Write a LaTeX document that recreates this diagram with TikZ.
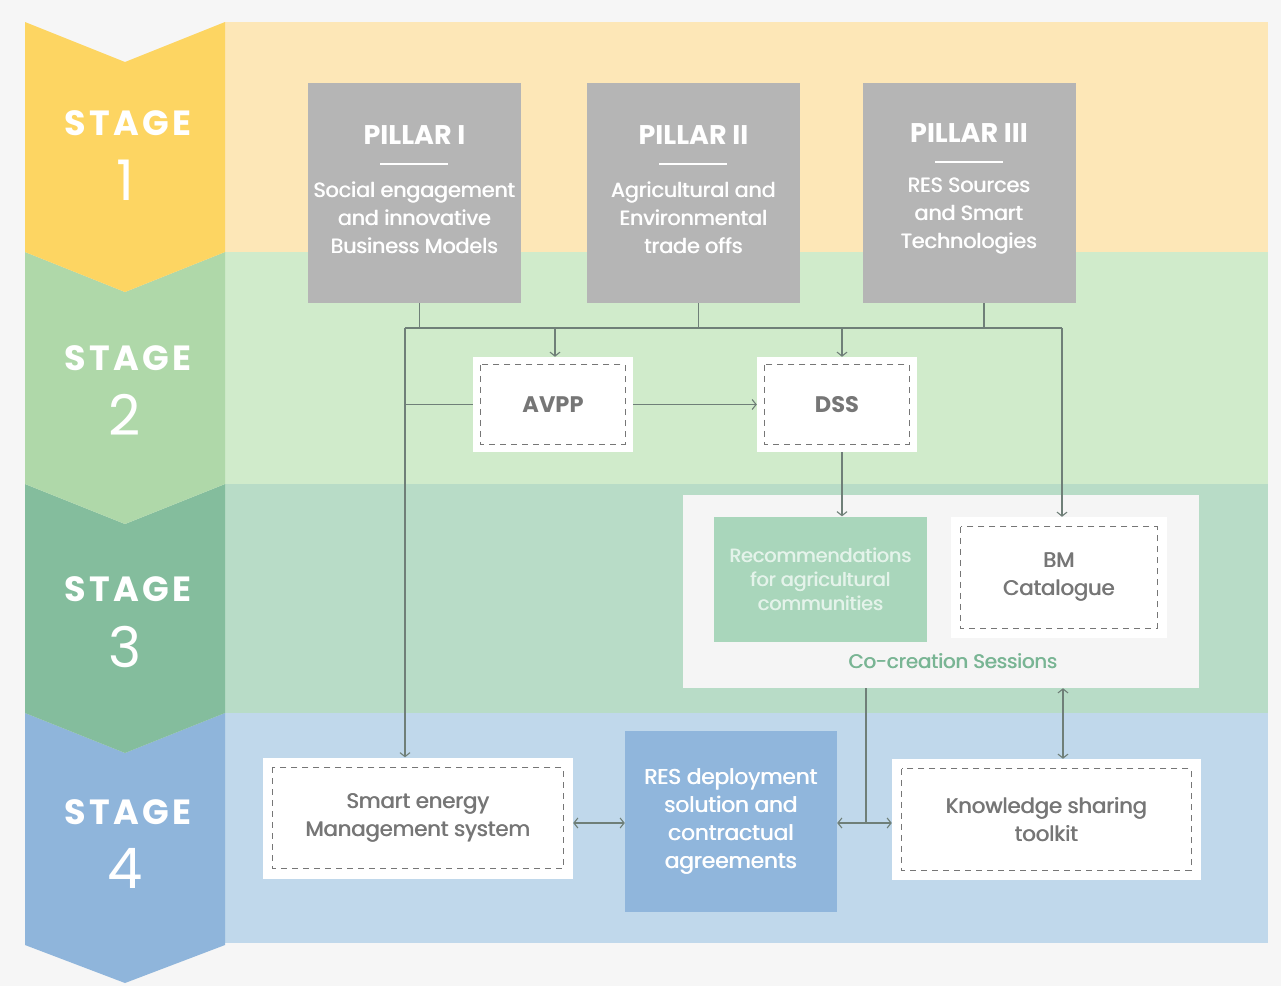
\documentclass[tikz,border=0pt]{standalone}
\usepackage{fontspec}
\setmainfont{Poppins}
\newfontfamily\stagefont{Poppins}[LetterSpace=9]
\usetikzlibrary{arrows.meta,calc}
\definecolor{bgc}{HTML}{F6F6F6}
\definecolor{band1}{HTML}{FDE7B7}
\definecolor{band2}{HTML}{D0EBCB}
\definecolor{band3}{HTML}{B8DCC7}
\definecolor{band4}{HTML}{C0D8EB}
\definecolor{chev1}{HTML}{FDD562}
\definecolor{chev2}{HTML}{AFD8A9}
\definecolor{chev3}{HTML}{84BD9D}
\definecolor{chev4}{HTML}{8FB5DB}
\definecolor{pillarc}{HTML}{B5B5B5}
\definecolor{linec}{HTML}{6F7F78}
\definecolor{recfill}{HTML}{A9D6BB}
\definecolor{rectext}{HTML}{E4F3EA}
\definecolor{resfill}{HTML}{90B6DC}
\definecolor{cctext}{HTML}{79B594}
\definecolor{boxtext}{HTML}{767676}
\definecolor{ccfill}{HTML}{F5F5F5}
\newcommand{\dashin}[2]{\draw[dashbox] ([shift={(#2,#2)}]#1.north west) rectangle ([shift={(-#2,-#2)}]#1.south east);}
\newcommand{\thk}[1]{\rlap{#1}\kern0.7pt#1}
\begin{document}
\begin{tikzpicture}[x=1pt,y=-1pt,
  conn/.style={draw=linec, line width=1.1pt},
  arr/.style={conn, -{Straight Barb[length=4pt,width=10pt]}},
  darr/.style={conn, {Straight Barb[length=4pt,width=10pt]}-{Straight Barb[length=4pt,width=10pt]}},
  pillar/.style={fill=pillarc, minimum width=213pt, minimum height=220pt, inner sep=0pt},
  ptitle/.style={text=white, font=\bfseries\fontsize{27}{30}\selectfont},
  pdesc/.style={text=white, align=center, font=\fontsize{20.5}{28}\selectfont},
  wbox/.style={fill=white, inner sep=0pt, text=boxtext, align=center, font=\fontsize{21}{28}\selectfont},
  dashbox/.style={draw=boxtext, line width=1.1pt, dash pattern=on 6pt off 5pt},
  stagel/.style={text=white, font=\stagefont\bfseries\fontsize{35}{40}\selectfont},
  stagen/.style={text=white, font=\fontsize{56}{66}\selectfont}
]
\useasboundingbox[fill=bgc] (0,0) rectangle (1281,986);
% bands
\fill[band1] (225,22) rectangle (1268,252);
\fill[band2] (225,252) rectangle (1268,484);
\fill[band3] (225,484) rectangle (1268,713);
\fill[band4] (225,713) rectangle (1268,943);
% chevrons
\fill[chev4] (25,713) -- (125,753) -- (225,713) -- (225,945) -- (125,983) -- (25,945) -- cycle;
\fill[chev3] (25,484) -- (125,524) -- (225,484) -- (225,713) -- (125,753) -- (25,713) -- cycle;
\fill[chev2] (25,252) -- (125,292) -- (225,252) -- (225,484) -- (125,524) -- (25,484) -- cycle;
\fill[chev1] (25,22) -- (125,62) -- (225,22) -- (225,252) -- (125,292) -- (25,252) -- cycle;
\node[stagel] (s1l) at (128,123) {STAGE};
\node[stagen] (s1n) at (125,180) {1};
\node[stagel] (s2l) at (128,358) {STAGE};
\node[stagen] (s2n) at (125,415) {2};
\node[stagel] (s3l) at (128,589) {STAGE};
\node[stagen] (s3n) at (125,647) {3};
\node[stagel] (s4l) at (128,812) {STAGE};
\node[stagen] (s4n) at (125,868) {4};
% pillars
\node[pillar] (p1) at (414.5,193) {};
\node[pillar] (p2) at (693.5,193) {};
\node[pillar] (p3) at (969,193) {};
\node[ptitle] (p1t) at (414.5,135) {PILLAR I};
\node[ptitle] (p2t) at (693.5,135) {PILLAR II};
\node[ptitle] (p3t) at (969,133) {PILLAR III};
\draw[white, line width=1.4pt] (380,164) -- (448,164);
\draw[white, line width=1.4pt] (659,164) -- (727,164);
\draw[white, line width=1.4pt] (935,162) -- (1003,162);
\node[pdesc] (p1d) at (414.5,218) {\thk{Social engagement}\\\thk{and innovative}\\\thk{Business Models}};
\node[pdesc] (p2d) at (693.5,218) {\thk{Agricultural and}\\\thk{Environmental}\\\thk{trade offs}};
\node[pdesc] (p3d) at (969,216) {\thk{RES Sources}\\\thk{and Smart}\\\thk{Technologies}};
% stage 2 boxes
\node[wbox, minimum width=160pt, minimum height=95pt, font=\bfseries\fontsize{22.5}{28}\selectfont] (avpp) at (553,404.5) {AVPP};
\node[wbox, minimum width=160pt, minimum height=95pt, font=\bfseries\fontsize{22.5}{28}\selectfont] (dss) at (837,404.5) {DSS};
\dashin{avpp}{8}
\dashin{dss}{8}
% stage 3
\node[fill=ccfill, minimum width=516pt, minimum height=193pt, inner sep=0pt] (cc) at (941,591.5) {};
\node[fill=recfill, minimum width=213pt, minimum height=125pt, inner sep=0pt, text=rectext, align=center, font=\fontsize{19}{24}\selectfont] (rec) at (820.5,579) {\thk{Recommendations}\\\thk{for agricultural}\\\thk{communities}};
\node[wbox, minimum width=216pt, minimum height=121pt] (bm) at (1059,577.5) {\thk{BM}\\\thk{Catalogue}};
\dashin{bm}{10}
\node[text=cctext, font=\fontsize{19.5}{24}\selectfont] (cct) at (953,661) {\thk{Co-creation Sessions}};
% stage 4
\node[wbox, minimum width=310pt, minimum height=121pt] (sm) at (418,818) {\thk{Smart energy}\\\thk{Management system}};
\dashin{sm}{10}
\node[fill=resfill, minimum width=212pt, minimum height=181pt, inner sep=0pt, text=white, align=center, font=\fontsize{21.5}{28}\selectfont] (res) at (731,821.5) {\thk{RES deployment}\\\thk{solution and}\\\thk{contractual}\\\thk{agreements}};
\node[wbox, minimum width=309pt, minimum height=121pt] (ks) at (1046.5,819.5) {\thk{Knowledge sharing}\\\thk{toolkit}};
\dashin{ks}{10}
% connectors
\coordinate (busL) at (405,328);
\coordinate (busR) at (1062,328);
\coordinate (cj) at (866,823);
\coordinate (kx) at (1063,700);
\coordinate (dssx) at (842,452);
\draw[conn] ($(p1.south)+(5,0)$) -- ($(p1.south)+(5,25)$);
\draw[conn] ($(p2.south)+(5,0)$) -- ($(p2.south)+(5,25)$);
\draw[conn] ($(p3.south)+(15,0)$) -- ($(p3.south)+(15,25)$);
\draw[conn] (busL) -- (busR);
\draw[arr] (busL) -- (busL |- sm.north);
\draw[arr] ($(avpp.north |- busL)+(2,0)$) -- ($(avpp.north)+(2,0)$);
\draw[arr] ($(dss.north |- busL)+(5,0)$) -- ($(dss.north)+(5,0)$);
\draw[arr] (busR) -- (busR |- bm.north);
\draw[conn] (busL |- avpp.west) -- (avpp.west);
\draw[arr] (avpp.east) -- (dss.west);
\draw[arr] (dssx) -- (dssx |- rec.north);
\draw[conn] (cc.south -| cj) -- (cj);
\draw[darr] (res.east |- cj) -- (ks.west |- cj);
\draw[darr] (cc.south -| kx) -- (ks.north -| kx);
\draw[darr] (sm.east |- cj) -- (res.west |- cj);
\end{tikzpicture}
\end{document}
